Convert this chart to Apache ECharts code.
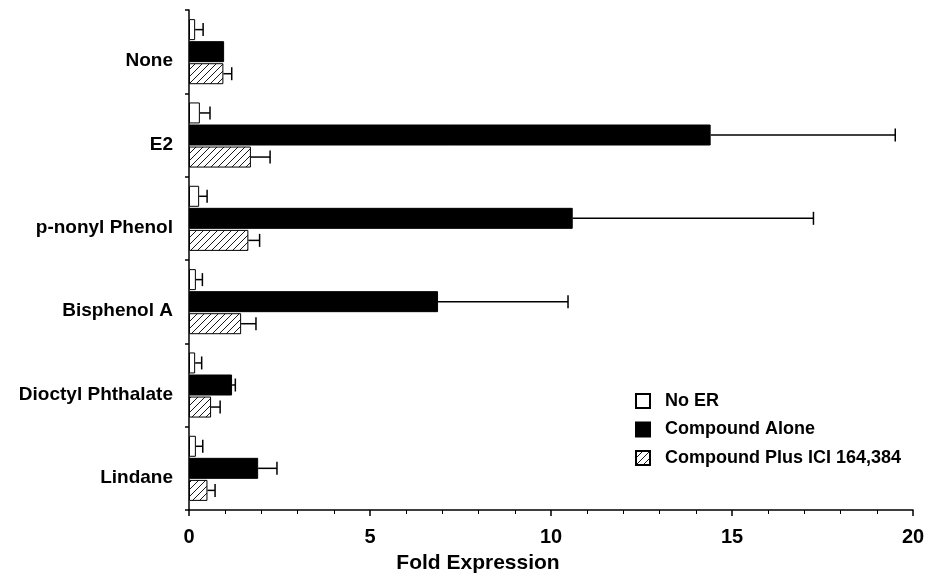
<!DOCTYPE html>
<html>
<head>
<meta charset="utf-8">
<script src="https://cdn.jsdelivr.net/npm/echarts@6/dist/echarts.min.js"></script>
<style>
  html, body { margin: 0; padding: 0; background: #ffffff; }
  #chart { width: 928px; height: 576px; }
</style>
</head>
<body>
<div id="chart"></div>
<script>
// Treatments, top to bottom
const categories = ['None', 'E2', 'p-nonyl Phenol', 'Bisphenol A', 'Dioctyl Phthalate', 'Lindane'];

// Fold expression means and upper error (+SD) for each condition
const noER        = [0.17, 0.30, 0.28, 0.19, 0.17, 0.19];
const noERErr     = [0.22, 0.28, 0.22, 0.18, 0.18, 0.19];
const alone       = [0.97, 14.41, 10.60, 6.88, 1.19, 1.91];
const aloneErr    = [0.00, 5.10, 6.65, 3.59, 0.09, 0.52];
const plusICI     = [0.95, 1.71, 1.64, 1.44, 0.61, 0.51];
const plusICIErr  = [0.23, 0.53, 0.31, 0.41, 0.25, 0.21];

const seriesNames = ['No ER', 'Compound Alone', 'Compound Plus ICI 164,384'];

// x axis range and tick step
const xMin = 0, xMax = 20, xStep = 5;

const FONT = '"Liberation Sans", Arial, Helvetica, sans-serif';
const BAR_W = 21;
const BAR_GAP = 0.05;

// diagonal hatch fill
function hatchPattern() {
  const s = 7;
  const c = document.createElement('canvas');
  c.width = s; c.height = s;
  const g = c.getContext('2d');
  g.fillStyle = '#ffffff';
  g.fillRect(0, 0, s, s);
  g.strokeStyle = '#1a1a1a';
  g.lineWidth = 1;
  g.beginPath();
  g.moveTo(-1, s + 1); g.lineTo(s + 1, -1);
  g.moveTo(-1, 1); g.lineTo(1, -1);
  g.moveTo(s - 1, s + 1); g.lineTo(s + 1, s - 1);
  g.stroke();
  return { image: c, repeat: 'repeat' };
}

function barSeries(name, values, fill) {
  return {
    name: name,
    type: 'bar',
    data: values,
    barWidth: BAR_W,
    barGap: (BAR_GAP * 100) + '%',
    barCategoryGap: '20%',
    itemStyle: { color: fill, borderColor: '#000', borderWidth: 1 },
    emphasis: { disabled: true },
    z: 2
  };
}

// whisker from the bar end to value + err, with an end cap
function errorSeries(values, errs, slot) {
  return {
    type: 'custom',
    data: values.map((v, i) => [v, i, errs[i]]),
    encode: { x: 0, y: 1 },
    z: 3,
    silent: true,
    renderItem: function (params, api) {
      const v = api.value(0), e = api.value(2), i = api.value(1);
      if (!e) return null;
      const a = api.coord([v, i]);
      const b = api.coord([v + e, i]);
      const y = a[1] + slot * BAR_W * (1 + BAR_GAP);
      const cap = 6.5;
      const style = { stroke: '#000', lineWidth: 1.5 };
      return {
        type: 'group',
        children: [
          { type: 'line', shape: { x1: a[0], y1: y, x2: b[0], y2: y }, style: style },
          { type: 'line', shape: { x1: b[0], y1: y - cap, x2: b[0], y2: y + cap }, style: style }
        ]
      };
    }
  };
}

const chart = echarts.init(document.getElementById('chart'), null, { renderer: 'canvas' });

chart.setOption({
  animation: false,
  backgroundColor: '#ffffff',
  grid: { left: 189, right: 15, top: 10, bottom: 66, containLabel: false, outerBoundsMode: 'none' },
  legend: {
    data: seriesNames,
    orient: 'vertical',
    left: 635,
    top: 391,
    padding: 0,
    icon: 'rect',
    itemWidth: 14,
    itemHeight: 14,
    itemGap: 8.5,
    selectedMode: false,
    textStyle: { fontFamily: FONT, fontWeight: 'bold', fontSize: 18, color: '#000', lineHeight: 20, padding: [0, 0, 0, 10] }
  },
  xAxis: {
    type: 'value',
    min: xMin,
    max: xMax,
    interval: xStep,
    name: 'Fold Expression',
    nameLocation: 'middle',
    nameGap: 43,
    nameTextStyle: { fontFamily: FONT, fontWeight: 'bold', fontSize: 21, color: '#000', padding: [0, 146, 0, 0] },
    axisLine: { show: true, lineStyle: { color: '#000', width: 1.5 } },
    axisTick: { show: true, length: 6, lineStyle: { color: '#000', width: 1.5 } },
    minorTick: { show: true, splitNumber: 5, length: 4, lineStyle: { color: '#000', width: 1 } },
    splitLine: { show: false },
    axisLabel: { fontFamily: FONT, fontWeight: 'bold', fontSize: 20, color: '#000', margin: 17 }
  },
  yAxis: {
    type: 'category',
    data: categories,
    inverse: true,
    axisLine: { show: true, lineStyle: { color: '#000', width: 1.5 } },
    axisTick: { show: true, length: 4, interval: 0, lineStyle: { color: '#000', width: 1.5 } },
    splitLine: { show: false },
    axisLabel: { fontFamily: FONT, fontWeight: 'bold', fontSize: 19, color: '#000', margin: 16, verticalAlign: 'top', lineHeight: 19 }
  },
  series: [
    barSeries(seriesNames[0], noER, '#ffffff'),
    barSeries(seriesNames[1], alone, '#000000'),
    barSeries(seriesNames[2], plusICI, hatchPattern()),
    errorSeries(noER, noERErr, -1),
    errorSeries(alone, aloneErr, 0),
    errorSeries(plusICI, plusICIErr, 1)
  ]
});
</script>
</body>
</html>
